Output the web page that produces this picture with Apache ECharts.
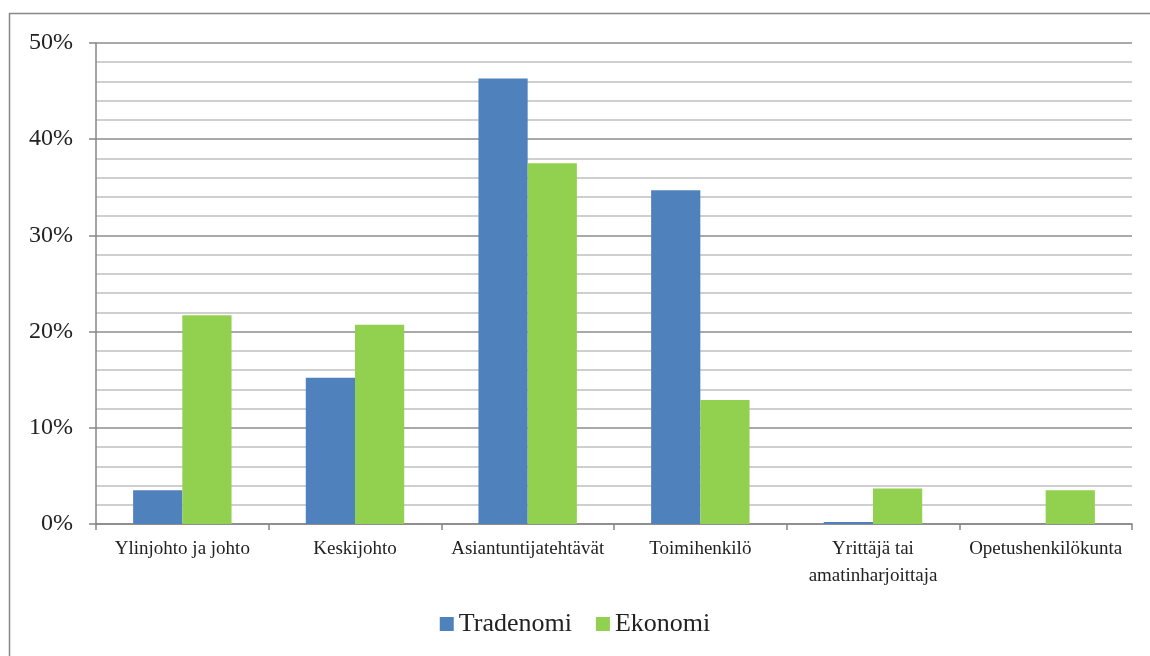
<!DOCTYPE html>
<html>
<head>
<meta charset="utf-8">
<script src="https://cdn.jsdelivr.net/npm/echarts@6/dist/echarts.min.js"></script>
<style>html,body{margin:0;padding:0;background:#fff;}#c{width:1150px;height:656px;}</style>
</head>
<body>
<div id="c"></div>
<script>
var categories = ['Ylinjohto ja johto', 'Keskijohto', 'Asiantuntijatehtävät', 'Toimihenkilö', 'Yrittäjä tai\namatinharjoittaja', 'Opetushenkilökunta'];
var tradenomi = [3.5, 15.2, 46.3, 34.7, 0.2, 0];
var ekonomi = [21.7, 20.7, 37.5, 12.9, 3.7, 3.5];
var seriesNames = ['Tradenomi', 'Ekonomi'];

var font = '"Liberation Serif", "DejaVu Serif", serif';
var chart = echarts.init(document.getElementById('c'));
chart.setOption({
  animation: false,
  textStyle: { fontFamily: font },
  graphic: [{
    type: 'rect',
    shape: { x: 9.5, y: 13.5, width: 1200, height: 700 },
    style: { fill: 'none', stroke: '#888', lineWidth: 1.5 },
    z: -1
  }],
  legend: {
    data: seriesNames,
    bottom: 14,
    left: 'center',
    icon: 'rect',
    itemWidth: 14, itemHeight: 14, itemGap: 24,
    textStyle: { fontFamily: font, fontSize: 26, color: '#222' }
  },
  grid: { left: 96, right: 18, top: 43, bottom: 132, containLabel: false },
  xAxis: {
    type: 'category',
    data: categories,
    axisLine: { lineStyle: { color: '#868686', width: 1.5 } },
    axisTick: { show: true, length: 6, lineStyle: { color: '#868686', width: 1.5 } },
    axisLabel: { fontFamily: font, fontSize: 19, color: '#222', margin: 12, lineHeight: 27, interval: 0 }
  },
  yAxis: {
    type: 'value',
    min: 0, max: 50, interval: 10,
    axisLine: { show: true, lineStyle: { color: '#868686', width: 1.5 } },
    axisTick: { show: true, length: 7, lineStyle: { color: '#868686', width: 1.5 } },
    axisLabel: { fontFamily: font, fontSize: 24, color: '#222', margin: 23, formatter: '{value}%' },
    splitLine: { lineStyle: { color: '#8c8c8c', width: 1.5 } },
    minorTick: { show: false, splitNumber: 5 },
    minorSplitLine: { show: true, lineStyle: { color: '#c0c0c0', width: 1.5 } }
  },
  series: [
    { name: seriesNames[0], type: 'bar', data: tradenomi, itemStyle: { color: '#4F81BD' }, barGap: '0%', barCategoryGap: '43%' },
    { name: seriesNames[1], type: 'bar', data: ekonomi, itemStyle: { color: '#92D050' }, barGap: '0%', barCategoryGap: '43%' }
  ]
});
</script>
</body>
</html>
